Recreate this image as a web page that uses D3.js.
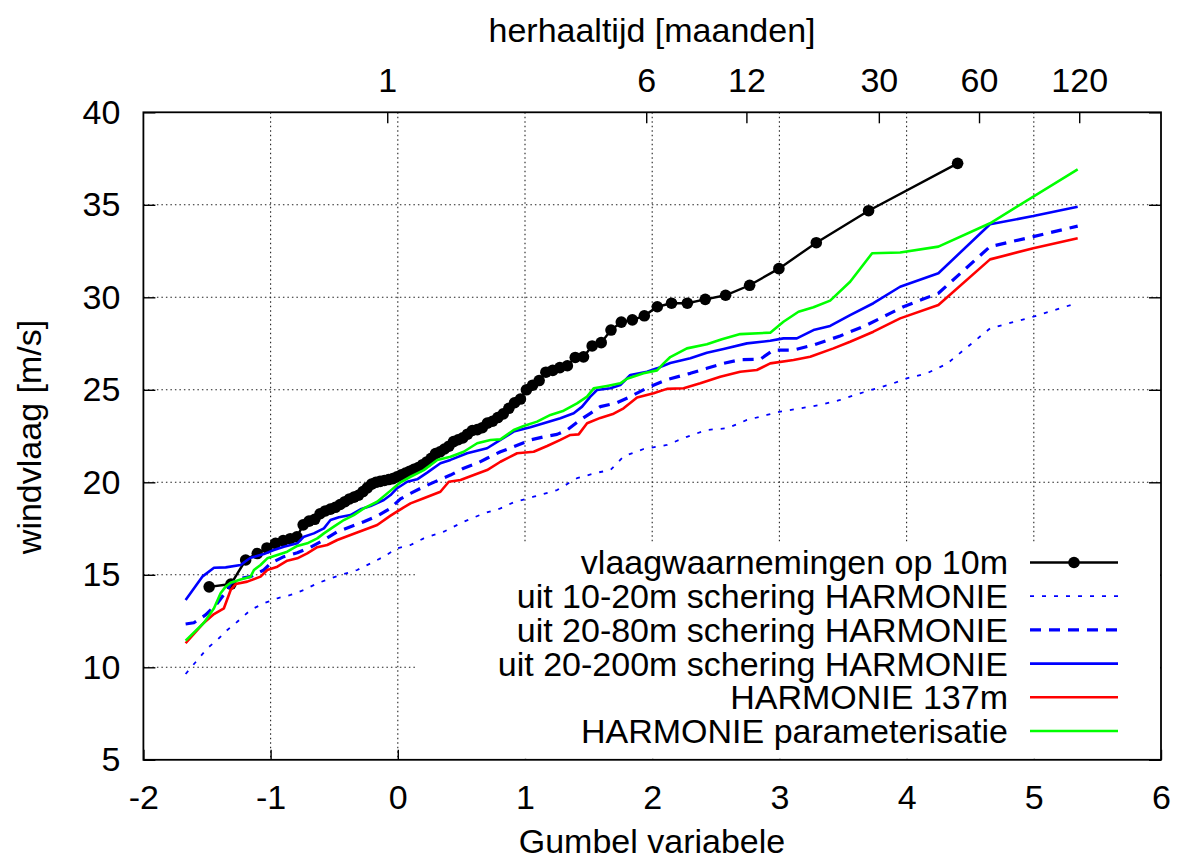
<!DOCTYPE html>
<html><head><meta charset="utf-8">
<script src="https://cdn.jsdelivr.net/npm/d3@7/dist/d3.min.js"></script>
<style>
body{margin:0;background:#fff}
svg{display:block}
text{font-family:"Liberation Sans",Arial,Helvetica,sans-serif;fill:#000}
</style>
</head><body>
<svg id="c" width="1177" height="859"></svg>
<script>
// ---------- data ----------
const xTicks = [-2, -1, 0, 1, 2, 3, 4, 5, 6];
const yTicks = [5, 10, 15, 20, 25, 30, 35, 40];
const topTicks = [1, 6, 12, 30, 60, 120];        // herhaaltijd [maanden]
const topTickGumbel = [-0.083, 5.357];           // Gumbel position of 1 and 120 months

const obsGumbel = [-1.483,-1.312,-1.196,-1.105,-1.029,-0.961,-0.901,-0.845,-0.793,-0.744,
  -0.698,-0.653,-0.611,-0.570,-0.530,-0.491,-0.453,-0.416,-0.380,-0.344,
  -0.309,-0.274,-0.240,-0.206,-0.172,-0.139,-0.105,-0.072,-0.039,-0.006,
  0.028,0.061,0.094,0.127,0.161,0.195,0.228,0.263,0.297,0.332,
  0.367,0.402,0.438,0.474,0.511,0.548,0.586,0.625,0.664,0.704,
  0.745,0.786,0.829,0.873,0.918,0.964,1.011,1.060,1.111,1.164,
  1.218,1.274,1.333,1.395,1.460,1.528,1.599,1.676,1.757,1.844,
  1.938,2.040,2.152,2.276,2.417,2.577,2.766,2.996,3.290,3.701,4.401];
const obsWind = [14.35,14.5,15.8,16.15,16.45,16.7,16.85,16.95,17.05,17.7,
  17.9,18.0,18.3,18.45,18.55,18.65,18.8,18.95,19.1,19.2,
  19.3,19.5,19.7,19.9,20.0,20.05,20.1,20.15,20.2,20.3,
  20.4,20.5,20.6,20.7,20.8,20.95,21.1,21.3,21.55,21.65,
  21.8,21.95,22.2,22.3,22.4,22.6,22.8,22.85,22.95,23.2,
  23.3,23.5,23.7,24.0,24.3,24.5,25.0,25.25,25.5,25.95,
  26.05,26.2,26.3,26.75,26.78,27.37,27.55,28.23,28.66,28.78,
  29.0,29.49,29.68,29.68,29.89,30.11,30.65,31.55,32.95,34.68,37.24];

const shear10_20 = [[-1.668,9.64],[-1.576,10.39],[-1.497,11.03],[-1.419,11.48],[-1.340,12.02],[-1.262,12.46],
  [-1.157,13.1],[-1.053,13.46],[-0.947,13.73],[-0.843,13.91],[-0.738,14.18],[-0.633,14.54],[-0.529,14.81],
  [-0.424,15.04],[-0.319,15.26],[-0.214,15.62],[-0.110,15.98],[-0.005,16.43],[0.100,16.61],[0.204,16.97],
  [0.361,17.33],[0.518,17.87],[0.676,18.32],[0.807,18.59],[0.911,18.92],[1.068,19.22],[1.252,19.58],
  [1.409,20.22],[1.566,20.52],[1.671,20.66],[1.775,21.4],[1.932,21.8],[2.116,22.02],[2.273,22.46],
  [2.430,22.83],[2.588,22.92],[2.745,23.37],[2.902,23.64],[3.006,23.82],[3.163,24.0],[3.320,24.18],
  [3.477,24.45],[3.634,24.81],[3.766,25.08],[3.896,25.35],[4.002,25.62],[4.159,25.89],[4.316,26.4],
  [4.656,28.32],[4.996,28.95],[5.345,29.7]];

const shear20_80 = [[-1.668,12.34],[-1.603,12.41],[-1.511,12.83],[-1.419,13.46],[-1.340,14.18],[-1.314,14.54],
  [-1.236,14.81],[-1.157,14.9],[-1.053,15.26],[-1.0,15.62],[-0.896,15.98],[-0.790,16.19],[-0.686,16.49],
  [-0.581,16.88],[-0.476,17.33],[-0.372,17.6],[-0.267,17.87],[-0.162,18.18],[-0.057,18.6],[0.021,19.1],
  [0.100,19.4],[0.204,19.76],[0.335,20.16],[0.414,20.39],[0.518,20.76],[0.624,21.03],[0.702,21.3],
  [0.807,21.65],[0.911,21.92],[1.042,22.29],[1.147,22.46],[1.252,22.59],[1.331,22.83],[1.435,23.37],
  [1.514,23.73],[1.592,24.09],[1.723,24.3],[1.828,24.63],[1.959,25.1],[2.116,25.55],[2.300,25.89],
  [2.430,26.16],[2.561,26.43],[2.692,26.63],[2.849,26.65],[2.954,27.15],[3.111,27.15],[3.268,27.42],
  [3.477,27.91],[3.687,28.5],[3.870,29.13],[3.975,29.49],[4.250,30.22],[4.656,32.74],[4.996,33.28],[5.345,33.85]];

const shear20_200 = [[-1.668,13.64],[-1.537,14.9],[-1.445,15.38],[-1.353,15.4],[-1.236,15.53],[-1.183,15.8],
  [-1.157,15.92],[-1.053,16.12],[-0.974,16.34],[-0.896,16.52],[-0.790,16.70],[-0.738,17.06],[-0.660,17.24],
  [-0.581,17.51],[-0.529,17.96],[-0.463,18.11],[-0.372,18.23],[-0.293,18.54],[-0.214,18.72],[-0.110,19.04],
  [-0.057,19.31],[-0.005,19.68],[0.074,20.03],[0.152,20.16],[0.231,20.52],[0.335,21.03],[0.414,21.21],
  [0.545,21.57],[0.702,21.84],[0.807,22.29],[0.911,22.74],[1.042,22.97],[1.147,23.19],[1.278,23.46],
  [1.383,23.73],[1.449,24.09],[1.514,24.63],[1.566,24.99],[1.671,25.08],[1.749,25.26],[1.828,25.8],
  [1.959,25.98],[2.038,26.16],[2.142,26.45],[2.300,26.7],[2.430,27.0],[2.561,27.2],[2.745,27.51],
  [2.928,27.65],[3.032,27.78],[3.137,27.78],[3.268,28.23],[3.399,28.45],[3.556,29.04],[3.739,29.68],
  [3.949,30.57],[4.250,31.30],[4.656,33.95],[4.996,34.39],[5.345,34.9]];

const harmonie137 = [[-1.668,11.3],[-1.524,12.41],[-1.445,12.88],[-1.367,13.19],[-1.314,14.18],[-1.275,14.5],
  [-1.183,14.63],[-1.079,14.9],[-1.026,15.26],[-0.947,15.44],[-0.869,15.76],[-0.790,15.89],[-0.712,16.16],
  [-0.633,16.49],[-0.555,16.61],[-0.476,16.88],[-0.372,17.15],[-0.267,17.42],[-0.162,17.69],[-0.057,18.2],
  [0.047,18.65],[0.100,18.86],[0.204,19.14],[0.335,19.49],[0.401,20.03],[0.493,20.12],[0.597,20.39],
  [0.702,20.66],[0.807,21.11],[0.938,21.57],[1.068,21.65],[1.174,21.96],[1.278,22.29],[1.357,22.56],
  [1.422,22.59],[1.488,23.19],[1.592,23.48],[1.697,23.71],[1.775,24.0],[1.881,24.58],[2.011,24.81],
  [2.116,25.05],[2.247,25.08],[2.378,25.35],[2.535,25.71],[2.692,25.98],[2.823,26.07],[2.928,26.43],
  [3.111,26.61],[3.242,26.79],[3.425,27.24],[3.556,27.6],[3.739,28.14],[3.949,28.86],[4.250,29.58],
  [4.656,32.05],[4.996,32.65],[5.345,33.19]];

const harmonieParam = [[-1.668,11.44],[-1.524,12.41],[-1.445,13.19],[-1.393,14.0],[-1.353,14.36],[-1.314,14.57],
  [-1.236,14.75],[-1.157,14.9],[-1.131,15.26],[-1.079,15.53],[-1.026,15.89],[-0.947,16.07],[-0.869,16.25],
  [-0.790,16.56],[-0.712,16.7],[-0.633,16.97],[-0.581,17.24],[-0.503,17.6],[-0.424,17.96],[-0.346,18.23],
  [-0.267,18.59],[-0.162,18.95],[-0.057,19.55],[0.021,20.0],[0.100,20.3],[0.204,20.66],[0.310,21.21],
  [0.414,21.38],[0.518,21.65],[0.624,22.11],[0.728,22.29],[0.807,22.32],[0.911,22.83],[0.990,23.04],
  [1.095,23.28],[1.200,23.64],[1.304,23.87],[1.409,24.27],[1.488,24.63],[1.540,25.08],[1.645,25.21],
  [1.749,25.35],[1.802,25.6],[1.932,25.89],[2.038,26.05],[2.090,26.43],[2.142,26.77],[2.273,27.24],
  [2.430,27.46],[2.548,27.73],[2.692,28.01],[2.928,28.09],[3.032,28.68],[3.150,29.22],[3.268,29.46],
  [3.399,29.82],[3.556,30.84],[3.729,32.38],[3.949,32.42],[4.250,32.74],[4.656,34.0],[5.345,36.92]];

const legendLabels = ["vlaagwaarnemingen op 10m","uit 10-20m schering HARMONIE","uit 20-80m schering HARMONIE",
  "uit 20-200m schering HARMONIE","HARMONIE 137m","HARMONIE parameterisatie"];

// ---------- layout ----------
const svg = d3.select("#c");
const L = 143.4, R = 1161, T = 112.3, B = 759.8;
const FS = 34;
const x = d3.scaleLinear().domain([-2, 6]).range([L, R]);
const y = d3.scaleLinear().domain([5, 40]).range([B, T]);
const xTop = d3.scaleLog().domain([topTicks[0], topTicks[topTicks.length-1]])
  .range([x(topTickGumbel[0]), x(topTickGumbel[1])]);
const fmt = d => String(d);

svg.append("rect").attr("width",1177).attr("height",859).attr("fill","#fff");

// grid
const grid = svg.append("g").attr("stroke","#222").attr("stroke-width",1.1).attr("stroke-dasharray","1.5,3");
grid.selectAll(".gx").data(xTicks.slice(1,-1)).join("line")
  .attr("x1",d=>x(d)).attr("x2",d=>x(d)).attr("y1",T).attr("y2",B);
grid.selectAll(".gy").data(yTicks.slice(1,-1)).join("line")
  .attr("x1",L).attr("x2",R).attr("y1",d=>y(d)).attr("y2",d=>y(d));

// axes
function styleAxis(g){ g.select(".domain").remove(); g.selectAll("line").attr("stroke","#000").attr("stroke-width",1.4);
  g.selectAll("text").attr("font-size",FS).attr("font-family",'"Liberation Sans",Arial,sans-serif'); }
svg.append("g").attr("transform",`translate(0,${B})`)
  .call(d3.axisBottom(x).tickValues(xTicks).tickSizeInner(-10).tickSizeOuter(0).tickPadding(25).tickFormat(fmt))
  .call(styleAxis);
svg.append("g").attr("transform",`translate(${L},0)`)
  .call(d3.axisLeft(y).tickValues(yTicks).tickSizeInner(-12).tickSizeOuter(0).tickPadding(23).tickFormat(fmt))
  .call(styleAxis);
svg.append("g").attr("transform",`translate(${R},0)`)
  .call(d3.axisRight(y).tickValues(yTicks).tickSizeInner(-12).tickSizeOuter(0).tickFormat(""))
  .call(styleAxis);
svg.append("g").attr("transform",`translate(0,${T})`)
  .call(d3.axisTop(xTop).tickValues(topTicks).tickSizeInner(-11).tickSizeOuter(0).tickPadding(20).tickFormat(fmt))
  .call(styleAxis);

// series
const line = d3.line().x(d=>x(d[0])).y(d=>y(d[1]));
const plot = svg.append("g");
const obs = obsGumbel.map((g,i)=>[g, obsWind[i]]);
const styles = [
  {data:shear10_20, color:"#0000ff", w:1.8, dash:"4,8"},
  {data:shear20_80, color:"#0000ff", w:3.2, dash:"11,8"},
  {data:shear20_200, color:"#0000ff", w:2.6, dash:null},
  {data:harmonie137, color:"#ff0000", w:2.6, dash:null},
  {data:harmonieParam, color:"#00ff00", w:2.6, dash:null}
];
plot.append("path").datum(obs).attr("d",line).attr("fill","none").attr("stroke","#000").attr("stroke-width",2.4);
plot.selectAll(".pt").data(obs).join("circle").attr("cx",d=>x(d[0])).attr("cy",d=>y(d[1])).attr("r",5.8).attr("fill","#000");
styles.forEach(s=>{
  plot.append("path").datum(s.data).attr("d",line).attr("fill","none").attr("stroke",s.color)
    .attr("stroke-width",s.w).attr("stroke-dasharray",s.dash).attr("stroke-linejoin","round");
});

// legend (opaque)
const lg = svg.append("g");
lg.append("rect").attr("x",417).attr("y",543).attr("width",R-417-1).attr("height",B-543-1).attr("fill","#fff");
const rowY = i => 562.5 + 33.7*i;
legendLabels.forEach((lab,i)=>{
  lg.append("text").attr("x",1008).attr("y",rowY(i)).attr("dy","0.35em").attr("text-anchor","end")
    .attr("font-size",FS).text(lab);
});
lg.append("line").attr("x1",1030).attr("x2",1118).attr("y1",rowY(0)).attr("y2",rowY(0)).attr("stroke","#000").attr("stroke-width",2.4);
lg.append("circle").attr("cx",1074).attr("cy",rowY(0)).attr("r",5.8).attr("fill","#000");
styles.forEach((s,k)=>{
  lg.append("line").attr("x1",1030).attr("x2",1118).attr("y1",rowY(k+1)).attr("y2",rowY(k+1))
    .attr("stroke",s.color).attr("stroke-width",s.w).attr("stroke-dasharray",s.dash);
});

// border
svg.append("rect").attr("x",L).attr("y",T).attr("width",R-L).attr("height",B-T)
  .attr("fill","none").attr("stroke","#000").attr("stroke-width",1.8);

// titles
svg.append("text").attr("x",652).attr("y",853).attr("text-anchor","middle").attr("font-size",FS).text("Gumbel variabele");
svg.append("text").attr("x",652).attr("y",42).attr("text-anchor","middle").attr("font-size",FS).text("herhaaltijd [maanden]");
svg.append("text").attr("transform","translate(41,437) rotate(-90)").attr("text-anchor","middle").attr("font-size",FS).text("windvlaag [m/s]");
</script>
</body></html>
